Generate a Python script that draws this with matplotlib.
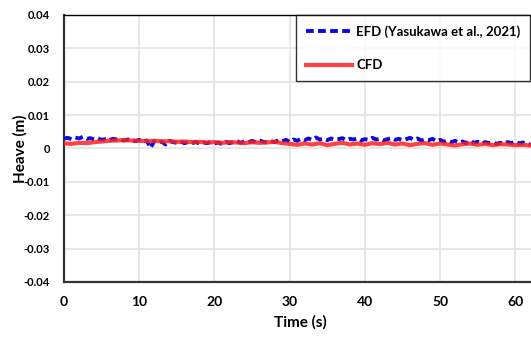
import numpy as np
import matplotlib
matplotlib.use("Agg")
import matplotlib.pyplot as plt

# EFD: t = 0 .. 62 s, step 0.5 s
efd_t0, efd_dt = 0.0, 0.5
efd_heave = [
    0.0030, 0.0032, 0.0028, 0.0033, 0.0030, 0.0035, 0.0029, 0.0031, 0.0027, 0.0030, 0.0026,
    0.0028, 0.0025, 0.0029, 0.0027, 0.0026, 0.0024, 0.0027, 0.0025, 0.0022, 0.0026,
    0.0020, 0.0024, 0.0002, 0.0022, 0.0018, 0.0021, 0.0012, 0.0023, 0.0019, 0.0017,
    0.0021, 0.0016, 0.0019, 0.0015, 0.0020, 0.0014, 0.0018, 0.0016, 0.0019, 0.0015,
    0.0018, 0.0013, 0.0020, 0.0016, 0.0019, 0.0022, 0.0017, 0.0021, 0.0018, 0.0023,
    0.0019, 0.0024, 0.0020, 0.0018, 0.0022, 0.0019, 0.0025, 0.0021, 0.0026, 0.0020,
    0.0027, 0.0023, 0.0029, 0.0025, 0.0030, 0.0026, 0.0033, 0.0027, 0.0029, 0.0025,
    0.0030, 0.0026, 0.0028, 0.0031, 0.0025, 0.0029, 0.0027, 0.0030, 0.0024, 0.0028,
    0.0026, 0.0032, 0.0027, 0.0029, 0.0024, 0.0028, 0.0031, 0.0026, 0.0029, 0.0025,
    0.0028, 0.0032, 0.0026, 0.0030, 0.0024, 0.0027, 0.0025, 0.0029, 0.0022, 0.0026,
    0.0020, 0.0024, 0.0019, 0.0023, 0.0018, 0.0021, 0.0016, 0.0024, 0.0017, 0.0020,
    0.0015, 0.0019, 0.0016, 0.0018, 0.0014, 0.0017, 0.0015, 0.0019, 0.0016, 0.0021,
    0.0015, 0.0018, 0.0014, 0.0012,
]

# CFD: t = 0 .. 62 s, step 1 s
cfd_t0, cfd_dt = 0.0, 1.0
cfd_heave = [
    0.0015, 0.0014, 0.0017, 0.0016, 0.0019, 0.0021, 0.0023, 0.0024, 0.0025, 0.0024, 0.0023,
    0.0022, 0.0023, 0.0021, 0.0022, 0.0020, 0.0021, 0.0019, 0.0020, 0.0018, 0.0019,
    0.0017, 0.0019, 0.0018, 0.0016, 0.0019, 0.0017, 0.0018, 0.0020, 0.0016, 0.0014,
    0.0011, 0.0015, 0.0012, 0.0016, 0.0010, 0.0014, 0.0017, 0.0012, 0.0015, 0.0011,
    0.0016, 0.0013, 0.0017, 0.0012, 0.0015, 0.0010, 0.0014, 0.0016, 0.0011, 0.0015,
    0.0012, 0.0009, 0.0013, 0.0015, 0.0011, 0.0014, 0.0010, 0.0013, 0.0012, 0.0010,
    0.0011, 0.0009,
]

x_ticks = [0, 10, 20, 30, 40, 50, 60]
y_ticks = [-0.04, -0.03, -0.02, -0.01, 0, 0.01, 0.02, 0.03, 0.04]
y_ticklabels = ["-0.04", "-0.03", "-0.02", "-0.01", "0", "0.01", "0.02", "0.03", "0.04"]

efd_t = efd_t0 + efd_dt * np.arange(len(efd_heave))
cfd_t = cfd_t0 + cfd_dt * np.arange(len(cfd_heave))

plt.rcParams['font.family'] = ['Lato', 'DejaVu Sans']

fig = plt.figure(figsize=(5.31, 3.38), dpi=100)
ax = fig.add_axes([64/531, 56/338, 1 - 64/531 + 0.01, (282-15)/338])

ax.plot(efd_t, efd_heave, color='#0a0adc', lw=2.8, ls=(0, (2.0, 1.1)),
        label='EFD (Yasukawa et al., 2021)', zorder=3)
ax.plot(cfd_t, cfd_heave, color='#ff2020', lw=3.0, alpha=0.85, label='CFD', zorder=4)

ax.set_xlim(0, 62.8)
ax.set_ylim(-0.04, 0.04)
ax.set_xticks(x_ticks)
ax.set_xticklabels([str(v) for v in x_ticks], fontsize=10, fontweight='bold')
ax.set_yticks(y_ticks)
ax.set_yticklabels(y_ticklabels, fontsize=8, fontweight='bold')
ax.tick_params(axis='both', length=0)
ax.tick_params(axis='x', pad=10)
ax.tick_params(axis='y', pad=10)
ax.grid(True, color='#e3e3e3', lw=1.2)
ax.set_axisbelow(True)

for s in ['left', 'bottom']:
    ax.spines[s].set_color('#333333')
    ax.spines[s].set_linewidth(1.6)
ax.spines['top'].set_color('black')
ax.spines['top'].set_linewidth(1.0)
ax.spines['right'].set_visible(False)

ax.set_xlabel('Time (s)', fontsize=11, fontweight='bold', labelpad=5)
ax.set_ylabel('Heave (m)', fontsize=11, fontweight='bold', labelpad=-3)

leg = ax.legend(loc='upper left', frameon=True, fancybox=False,
                edgecolor='black', handlelength=3.5, handletextpad=0.3,
                borderpad=0.75, labelspacing=1.65, borderaxespad=0,
                prop={'weight': 'bold', 'size': 9.5})
leg.get_frame().set_linewidth(1.0)
leg.set_bbox_to_anchor((296/531, 1 - 15/338), transform=fig.transFigure)

fig.savefig('out.png', dpi=100)
